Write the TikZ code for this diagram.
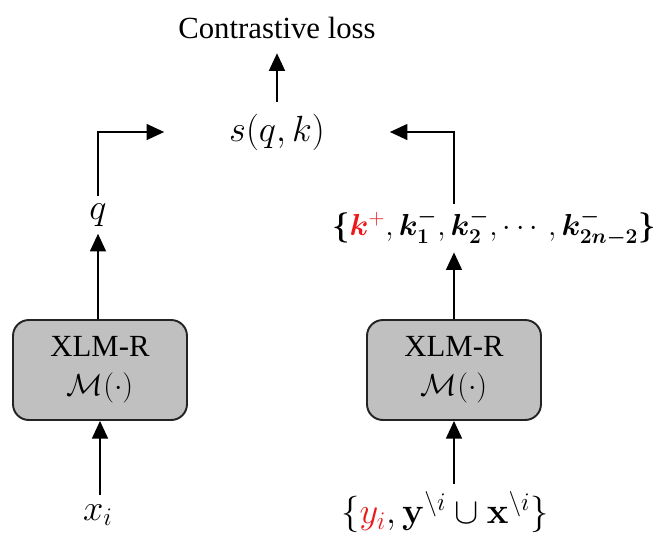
\documentclass[tikz,border=0pt]{standalone}
\usepackage{amsmath}
\usepackage{amssymb}
\usepackage{bm}
\usepackage[no-math]{fontspec}
\setmainfont{Liberation Serif}
\usepackage{xcolor}
\usepackage{tikz}
\usetikzlibrary{arrows.meta, positioning}
\definecolor{encgray}{RGB}{192, 192, 192}
\definecolor{encline}{RGB}{35, 35, 35}
\definecolor{posred}{RGB}{235, 25, 25}

\begin{document}
\begin{tikzpicture}[x=0.02cm, y=-0.02cm, font=\fontsize{17.5}{20}\selectfont,
    encoder/.style={draw=encline, fill=encgray, line width=1.1pt, rounded corners=9pt,
                    minimum width=3.48cm, minimum height=2cm, align=center},
    bigmath/.style={font=\fontsize{21.5}{24}\selectfont},
    arr/.style={line width=1.1pt, -{Triangle[width=9pt, length=10pt]}}]
  \useasboundingbox (0,0) rectangle (664,532);
  % outputs
  \node[inner ysep=8pt] (loss) at (277,28) {Contrastive loss};
  \node[bigmath, minimum width=4.5cm, minimum height=1.2cm] (s) at (277,132) {$s(q,k)$};
  \node[bigmath, inner sep=4pt] (q) at (98,215) {$q$};
  \node[inner sep=3pt] (keys) at (494,228)
    {$\bm{\{}\textcolor{posred}{\bm{k}^{+}}, \bm{k}_{\bm{1}}^{\bm{-}}, \bm{k}_{\bm{2}}^{\bm{-}}, \cdots, \bm{k}_{\bm{2n-2}}^{\bm{-}}\bm{\}}$};
  % encoders
  \node[encoder] (encq) at (100,370) {XLM-R\\[2pt]{\fontsize{16}{18}\selectfont$\mathcal{M}(\cdot)$}};
  \node[encoder] (enck) at (454,370) {XLM-R\\[2pt]{\fontsize{16}{18}\selectfont$\mathcal{M}(\cdot)$}};
  % inputs
  \node[bigmath, inner sep=5pt] (xi) at (98,515) {$x_i$};
  \node[font=\fontsize{19.5}{22}\selectfont, inner sep=4pt] (yi) at (445,512)
    {$\{\textcolor{posred}{y_i}, \mathbf{y}^{\setminus i} \cup \mathbf{x}^{\setminus i}\}$};
  % connectors
  \draw[arr] (xi.north -| encq) -- (encq);
  \draw[arr] (yi.north -| enck) -- (enck);
  \draw[arr] (encq.north -| q) -- (q);
  \draw[arr] (enck.north) -- (enck.north |- keys.south);
  \draw[arr] (q) |- (s);
  \draw[arr] (keys.north -| enck) |- (s);
  \draw[arr] (s) -- (loss);
\end{tikzpicture}
\end{document}
